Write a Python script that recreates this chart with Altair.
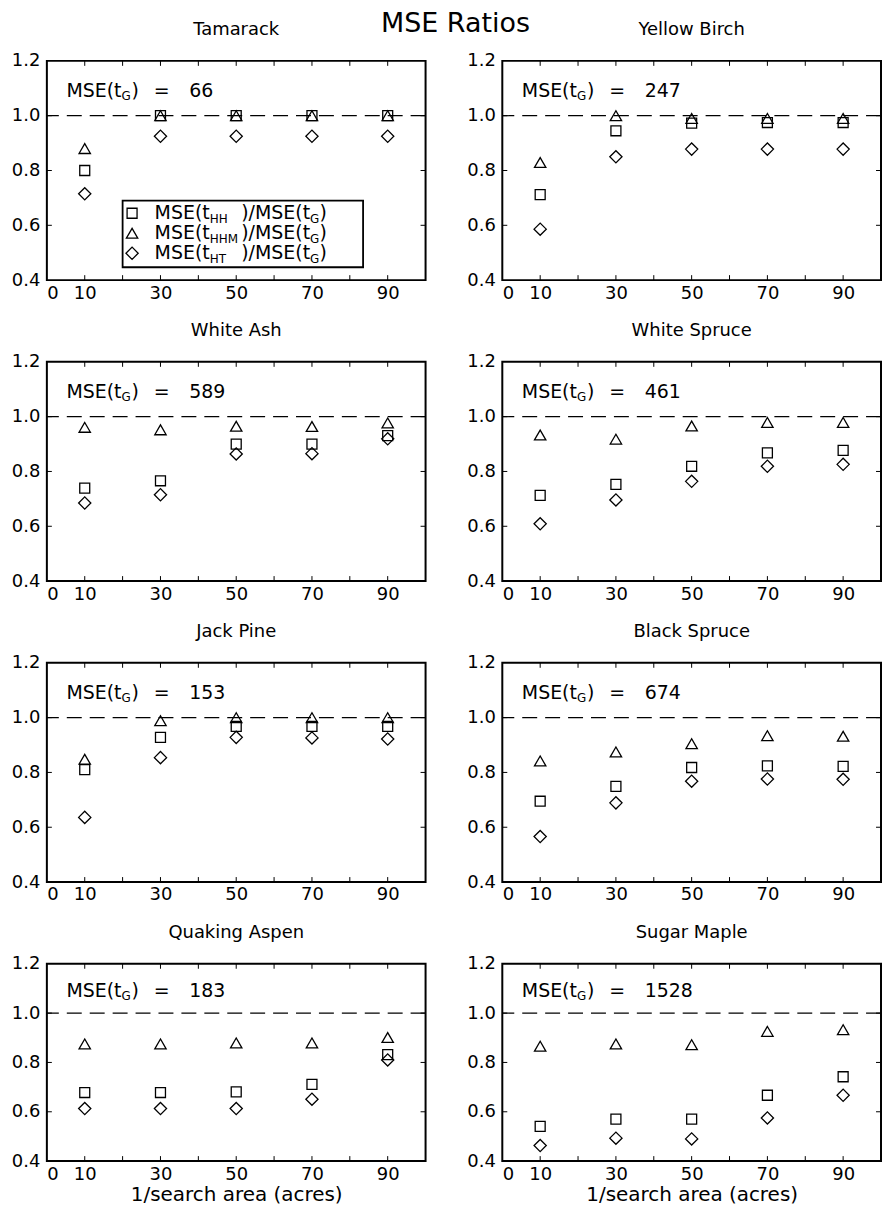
import altair as alt
import pandas as pd

FONT = "DejaVu Sans"

# ---------------- data ----------------
X = [10, 30, 50, 70, 90]

SPECIES = ["Tamarack", "Yellow Birch", "White Ash", "White Spruce",
           "Jack Pine", "Black Spruce", "Quaking Aspen", "Sugar Maple"]
MSE_G = ["66", "247", "589", "461", "153", "674", "183", "1528"]

TAMARACK_HH = [0.80, 1.00, 1.00, 1.00, 1.00]
TAMARACK_HHM = [0.88, 1.00, 1.00, 1.00, 1.00]
TAMARACK_HT = [0.715, 0.925, 0.925, 0.925, 0.925]

YELLOW_BIRCH_HH = [0.712, 0.945, 0.973, 0.975, 0.975]
YELLOW_BIRCH_HHM = [0.829, 1.00, 0.99, 0.99, 0.99]
YELLOW_BIRCH_HT = [0.586, 0.85, 0.878, 0.878, 0.878]

WHITE_ASH_HH = [0.739, 0.766, 0.90, 0.90, 0.931]
WHITE_ASH_HHM = [0.961, 0.952, 0.965, 0.964, 0.977]
WHITE_ASH_HT = [0.685, 0.715, 0.864, 0.865, 0.919]

WHITE_SPRUCE_HH = [0.713, 0.753, 0.819, 0.868, 0.877]
WHITE_SPRUCE_HHM = [0.933, 0.918, 0.966, 0.979, 0.979]
WHITE_SPRUCE_HT = [0.609, 0.696, 0.764, 0.819, 0.826]

JACK_PINE_HH = [0.81, 0.928, 0.968, 0.968, 0.968]
JACK_PINE_HHM = [0.848, 0.989, 1.00, 1.00, 1.00]
JACK_PINE_HT = [0.636, 0.854, 0.928, 0.926, 0.922]

BLACK_SPRUCE_HH = [0.695, 0.749, 0.818, 0.824, 0.822]
BLACK_SPRUCE_HHM = [0.842, 0.875, 0.905, 0.934, 0.932]
BLACK_SPRUCE_HT = [0.566, 0.689, 0.768, 0.776, 0.775]

QUAKING_ASPEN_HH = [0.678, 0.678, 0.681, 0.711, 0.832]
QUAKING_ASPEN_HHM = [0.875, 0.875, 0.879, 0.879, 0.901]
QUAKING_ASPEN_HT = [0.613, 0.613, 0.613, 0.651, 0.81]

SUGAR_MAPLE_HH = [0.541, 0.57, 0.57, 0.667, 0.742]
SUGAR_MAPLE_HHM = [0.866, 0.875, 0.872, 0.926, 0.933]
SUGAR_MAPLE_HT = [0.463, 0.493, 0.49, 0.575, 0.667]

SERIES = [
    (TAMARACK_HH, TAMARACK_HHM, TAMARACK_HT),
    (YELLOW_BIRCH_HH, YELLOW_BIRCH_HHM, YELLOW_BIRCH_HT),
    (WHITE_ASH_HH, WHITE_ASH_HHM, WHITE_ASH_HT),
    (WHITE_SPRUCE_HH, WHITE_SPRUCE_HHM, WHITE_SPRUCE_HT),
    (JACK_PINE_HH, JACK_PINE_HHM, JACK_PINE_HT),
    (BLACK_SPRUCE_HH, BLACK_SPRUCE_HHM, BLACK_SPRUCE_HT),
    (QUAKING_ASPEN_HH, QUAKING_ASPEN_HHM, QUAKING_ASPEN_HT),
    (SUGAR_MAPLE_HH, SUGAR_MAPLE_HHM, SUGAR_MAPLE_HT),
]

X_LABELS = [0, 10, 30, 50, 70, 90]
Y_LABELS = [0.4, 0.6, 0.8, 1.0, 1.2]
X_TICKS = [10, 20, 30, 40, 50, 60, 70, 80, 90]
Y_TICKS = [0.6, 0.8, 1.0]
LEGEND_SUBS = ["HH", "HHM", "HT"]

# ---------------- style ----------------
W = 380
SHAPES = [("square", 100), ("triangle-up", 130), ("diamond", 150)]
XSCALE = alt.Scale(domain=[0, 100], nice=False, zero=False)
YSCALE = alt.Scale(domain=[0.4, 1.2], nice=False, zero=False)


def panel(name, mse, series, height, bottom=False, legend=False):
    xkw = dict(values=X_LABELS, ticks=False, domain=False, grid=False,
               labelFontSize=18, labelPadding=4, labelFont=FONT,
               labelColor="black", labelFlush=True)
    if bottom:
        xkw.update(title="1/search area (acres)", titleFontSize=20, titleFont=FONT,
                   titleFontWeight="normal", titlePadding=2, titleColor="black")
    else:
        xkw.update(title=None)
    xaxis = alt.Axis(**xkw)
    yaxis = alt.Axis(values=Y_LABELS, format=".1f", ticks=False, domain=False,
                     grid=False, labelFontSize=18, labelPadding=7,
                     labelFont=FONT, labelColor="black", title=None)

    def xf(field):
        return alt.X(field, type="quantitative", scale=XSCALE, axis=xaxis)

    def yf(field):
        return alt.Y(field, type="quantitative", scale=YSCALE, axis=yaxis)

    def xd(val):
        return alt.X(datum=val, type="quantitative", scale=XSCALE, axis=xaxis)

    def yd(val):
        return alt.Y(datum=val, type="quantitative", scale=YSCALE, axis=yaxis)

    def text_layer(x, y, t, size, align, dx=0, dy=0):
        df = pd.DataFrame({"x": [x], "y": [y], "t": [t]})
        return alt.Chart(df).mark_text(
            font=FONT, fontSize=size, align=align, baseline="middle",
            dx=dx, dy=dy, color="black"
        ).encode(x=xf("x"), y=yf("y"), text="t:N")

    layers = []
    # dashed reference line
    layers.append(
        alt.Chart(pd.DataFrame({"y": [1.0]})).mark_rule(
            color="black", strokeWidth=1.2, strokeDash=[15, 8]
        ).encode(y=yf("y"))
    )
    # inward ticks
    dy = 5 * 0.8 / height
    dxu = 5 * 100 / W
    tx = pd.DataFrame({"x": X_TICKS})
    layers.append(alt.Chart(tx).mark_rule(color="black", strokeWidth=1).encode(
        x=xf("x"), y=yd(0.4), y2=alt.datum(0.4 + dy)))
    layers.append(alt.Chart(tx).mark_rule(color="black", strokeWidth=1).encode(
        x=xf("x"), y=yd(1.2), y2=alt.datum(1.2 - dy)))
    ty = pd.DataFrame({"y": Y_TICKS})
    layers.append(alt.Chart(ty).mark_rule(color="black", strokeWidth=1).encode(
        y=yf("y"), x=xd(0), x2=alt.datum(dxu)))
    layers.append(alt.Chart(ty).mark_rule(color="black", strokeWidth=1).encode(
        y=yf("y"), x=xd(100), x2=alt.datum(100 - dxu)))

    # points
    for vals, (shape, size) in zip(series, SHAPES):
        df = pd.DataFrame({"x": X, "v": vals})
        layers.append(
            alt.Chart(df).mark_point(shape=shape, size=size, filled=False,
                                     color="black", strokeWidth=1.3, opacity=1)
            .encode(x=xf("x"), y=yf("v"))
        )

    # MSE(t_G) = value annotation
    ya = 1.09
    layers.append(text_layer(19.7, ya, "MSE(t", 19, "right"))
    layers.append(text_layer(19.7, ya, "G", 12, "left", dx=0, dy=5))
    layers.append(text_layer(19.7, ya, ")", 19, "left", dx=10))
    layers.append(text_layer(30.3, ya, "=", 19, "center"))
    layers.append(text_layer(37.6, ya, mse, 19, "left"))

    if legend:
        box = pd.DataFrame({"x": [20], "x2": [83.5], "y": [0.447], "y2": [0.69]})
        layers.append(alt.Chart(box).mark_rect(
            fill="white", stroke="black", strokeWidth=1.8
        ).encode(x=xf("x"), x2="x2", y=yf("y"), y2="y2"))
        ly = [0.644, 0.571, 0.498]
        for (shape, size), yy, sub in zip(SHAPES, ly, LEGEND_SUBS):
            sd = pd.DataFrame({"x": [22.5], "y": [yy]})
            layers.append(alt.Chart(sd).mark_point(
                shape=shape, size=size, filled=False, color="black",
                strokeWidth=1.3, opacity=1).encode(x=xf("x"), y=yf("y")))
            layers.append(text_layer(43, yy, "MSE(t", 19, "right"))
            layers.append(text_layer(43, yy, sub, 12, "left", dy=6))
            layers.append(text_layer(69.5, yy, ")/MSE(t", 19, "right"))
            layers.append(text_layer(69.5, yy, "G", 12, "left", dy=6))
            layers.append(text_layer(69.5, yy, ")", 19, "left", dx=9.5))

    return alt.layer(*layers).properties(
        width=W, height=height,
        title=alt.TitleParams(name, fontSize=18, font=FONT, fontWeight="normal",
                              offset=13, anchor="middle", color="black"),
    )


panels = []
for k, (name, mse, ser) in enumerate(zip(SPECIES, MSE_G, SERIES)):
    row = k // 2
    h = 198 if row == 3 else 220
    panels.append(panel(name, mse, ser, h, bottom=(row == 3), legend=(k == 0)))

rows = [alt.hconcat(panels[2 * r], panels[2 * r + 1], spacing=38) for r in range(4)]

chart = alt.vconcat(*rows, spacing=18).properties(
    title=alt.TitleParams("MSE Ratios", fontSize=27, font=FONT, fontWeight="normal",
                          anchor="middle", offset=-18, dx=9, color="black"),
    padding={"left": 2, "top": 0, "right": 0, "bottom": 0},
).configure_view(stroke="black", strokeWidth=2).configure_axis(
    labelFont=FONT, titleFont=FONT
)

chart.save("out.html", embed_options={"renderer": "svg", "actions": False})
